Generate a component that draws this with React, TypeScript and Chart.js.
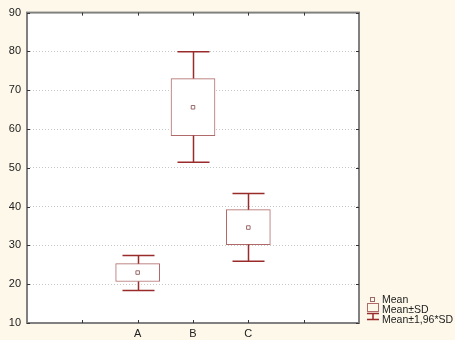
import React, { useEffect, useRef } from "react";
import { Chart, registerables } from "chart.js";

Chart.register(...registerables);

const categories = ["A", "B", "C"];
const categoryPositions = [2, 3, 4];
const means = [23.0, 65.6, 34.6];
const sdLow = [20.7, 58.3, 30.2];
const sdHigh = [25.3, 73.0, 39.2];
const ciLow = [18.4, 51.4, 25.9];
const ciHigh = [27.4, 79.9, 43.4];
const yTicks = [10, 20, 30, 40, 50, 60, 70, 80, 90];
const xTickPositions = [1, 2, 3, 4, 5];
const legendLabels = ["Mean", "Mean±SD", "Mean±1,96*SD"];

const BG = "#fdf8ea";
const WHISKER = "#9a2b2b";
const BOX = "#b06a6a";
const MEAN = "#9a6a6a";
const FRAME = "#808080";
const FONT = "'Liberation Sans', Arial, sans-serif";

export default function App() {
  const ref = useRef<HTMLCanvasElement | null>(null);

  useEffect(() => {
    document.body.style.margin = "0";
    const canvas = ref.current!;

    const framePlugin = {
      id: "frame",
      beforeDraw(chart: any) {
        const { ctx, chartArea: a } = chart;
        ctx.save();
        ctx.fillStyle = BG;
        ctx.fillRect(0, 0, chart.width, chart.height);
        ctx.fillStyle = "#ffffff";
        ctx.fillRect(a.left, a.top, a.right - a.left, a.bottom - a.top);
        ctx.restore();
      },
      afterDatasetsDraw(chart: any) {
        const { ctx, chartArea: a, scales } = chart;
        const x = scales.x;
        const y = scales.y;
        ctx.save();
        // whiskers
        ctx.strokeStyle = WHISKER;
        ctx.lineWidth = 1.5;
        const capHalf = 16;
        categoryPositions.forEach((p, i) => {
          const px = Math.round(x.getPixelForValue(p)) + 0.5;
          const yHi = y.getPixelForValue(ciHigh[i]);
          const yLo = y.getPixelForValue(ciLow[i]);
          const yBt = y.getPixelForValue(sdHigh[i]);
          const yBb = y.getPixelForValue(sdLow[i]);
          ctx.beginPath();
          ctx.moveTo(px, yHi);
          ctx.lineTo(px, yBt);
          ctx.moveTo(px, yBb);
          ctx.lineTo(px, yLo);
          ctx.moveTo(px - capHalf, yHi);
          ctx.lineTo(px + capHalf, yHi);
          ctx.moveTo(px - capHalf, yLo);
          ctx.lineTo(px + capHalf, yLo);
          ctx.stroke();
        });
        // frame
        ctx.strokeStyle = FRAME;
        ctx.lineWidth = 2;
        ctx.strokeRect(a.left, a.top, a.right - a.left, a.bottom - a.top);
        // inner ticks
        ctx.strokeStyle = "#333333";
        ctx.lineWidth = 1;
        ctx.beginPath();
        xTickPositions.forEach((p) => {
          const px = Math.round(x.getPixelForValue(p)) + 0.5;
          ctx.moveTo(px, a.bottom);
          ctx.lineTo(px, a.bottom - 3);
          ctx.moveTo(px, a.top);
          ctx.lineTo(px, a.top + 3);
        });
        yTicks.forEach((v) => {
          const py = Math.round(y.getPixelForValue(v)) + 0.5;
          ctx.moveTo(a.left, py);
          ctx.lineTo(a.left + 3, py);
          ctx.moveTo(a.right, py);
          ctx.lineTo(a.right - 3, py);
        });
        ctx.stroke();

        // legend
        ctx.font = `10.5px ${FONT}`;
        ctx.textBaseline = "middle";
        ctx.textAlign = "left";
        ctx.fillStyle = "#222222";
        const lx = 367;
        const tx = 382;
        // Mean marker
        ctx.strokeStyle = MEAN;
        ctx.lineWidth = 1;
        ctx.strokeRect(370.5, 297.5, 4, 4);
        ctx.fillText(legendLabels[0], tx, 300);
        // box
        ctx.strokeStyle = BOX;
        ctx.strokeRect(lx + 0.5, 303.5, 11, 8);
        ctx.fillText(legendLabels[1], tx, 310);
        // whisker symbol
        ctx.strokeStyle = WHISKER;
        ctx.lineWidth = 1.5;
        ctx.beginPath();
        ctx.moveTo(lx, 313.5);
        ctx.lineTo(lx + 12, 313.5);
        ctx.moveTo(lx + 6, 313.5);
        ctx.lineTo(lx + 6, 319.5);
        ctx.moveTo(lx, 319.5);
        ctx.lineTo(lx + 12, 319.5);
        ctx.stroke();
        ctx.fillText(legendLabels[2], tx, 320.5);
        ctx.restore();
      },
    };

    const chart = new Chart(canvas, {
      type: "bar",
      data: {
        datasets: [
          {
            type: "bar",
            label: "Mean±SD",
            data: categoryPositions.map((p, i) => ({ x: p, y: [sdLow[i], sdHigh[i]] })) as any,
            backgroundColor: "#ffffff",
            borderColor: BOX,
            borderWidth: 1,
            borderSkipped: false,
            barThickness: 44,
            order: 2,
          },
          {
            type: "scatter",
            label: "Mean",
            data: categoryPositions.map((p, i) => ({ x: p, y: means[i] })),
            pointStyle: "rect",
            pointRadius: 2.5,
            backgroundColor: "#ffffff",
            borderColor: MEAN,
            borderWidth: 1,
            order: 1,
          } as any,
        ],
      },
      options: {
        responsive: false,
        animation: false,
        events: [],
        layout: { padding: { left: 0, right: 96, top: 11, bottom: 0 } },
        plugins: { legend: { display: false }, tooltip: { enabled: false } },
        scales: {
          x: {
            type: "linear",
            min: 0,
            max: 6,
            offset: false,
            afterBuildTicks: (s: any) => {
              s.ticks = xTickPositions.map((v) => ({ value: v }));
            },
            afterFit: (s: any) => {
              s.height = 17;
            },
            grid: { display: false, drawTicks: false },
            border: { display: false },
            ticks: {
              padding: 4,
              color: "#222222",
              font: { family: FONT, size: 11 },
              callback: (v: any) => {
                const idx = categoryPositions.indexOf(Number(v));
                return idx >= 0 ? categories[idx] : "";
              },
              maxRotation: 0,
              autoSkip: false,
            },
          },
          y: {
            type: "linear",
            min: 10,
            max: 90,
            afterBuildTicks: (s: any) => {
              s.ticks = yTicks.map((v) => ({ value: v }));
            },
            afterFit: (s: any) => {
              s.width = 27;
            },
            grid: {
              drawTicks: false,
              color: "#c8c8c8",
              lineWidth: 1,
            },
            border: { display: false, dash: [1, 2] },
            ticks: {
              padding: 6,
              color: "#222222",
              font: { family: FONT, size: 11 },
            },
          },
        },
      } as any,
      plugins: [framePlugin],
    });
    return () => chart.destroy();
  }, []);

  return (
    <div style={{ width: 455, height: 340 }}>
      <canvas ref={ref} width={455} height={340} />
    </div>
  );
}
